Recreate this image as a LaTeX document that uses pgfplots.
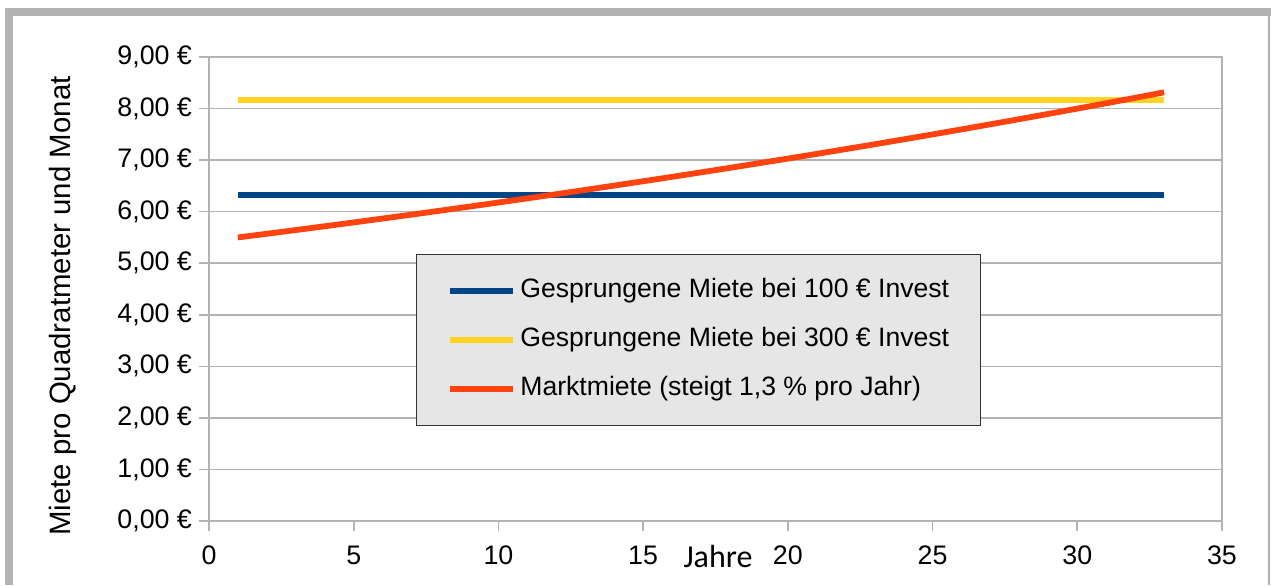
\documentclass[border=0pt]{standalone}
\usepackage{pgfplots}
\pgfplotsset{compat=1.18}
\usepackage{fontspec}
\setmainfont{Liberation Sans}
\newfontfamily\carlito{Carlito}
\definecolor{lblue}{HTML}{004586}
\definecolor{lyellow}{HTML}{FFD320}
\definecolor{lorange}{HTML}{FF420E}
\definecolor{lgrid}{HTML}{B3B3B3}
\definecolor{legfill}{HTML}{E6E6E6}
\begin{document}
\begin{tikzpicture}
\begin{axis}[
  at={(104.5pt,32pt)}, anchor=south west,
  scale only axis, width=506.5pt, height=232pt,
  xmin=0, xmax=35, ymin=0, ymax=9,
  xtick={0,5,...,35}, ytick={0,1,...,9},
  yticklabels={{0,00 €},{1,00 €},{2,00 €},{3,00 €},{4,00 €},{5,00 €},{6,00 €},{7,00 €},{8,00 €},{9,00 €}},
  /pgf/number format/assume math mode=true,
  tick label style={font=\fontsize{13.4}{15}\selectfont, text=black},
  xticklabel style={yshift=-4pt},
  axis line style={lgrid, line width=0.8pt},
  ymajorgrids, grid style={lgrid, line width=0.8pt},
  tick style={lgrid, line width=0.8pt},
  tick align=outside, major tick length=5pt, tick pos=left,
  legend cell align=left,
  legend image code/.code={\draw[#1, line width=2.9pt] (0pt,0pt) -- (31.5pt,0pt);},
  legend style={at={(rel axis cs:0.2043,0.575)}, anchor=north west,
    fill=legfill, draw=black!80, line width=0.6pt,
    font=\fontsize{13.3}{15}\selectfont,
    inner xsep=15.5pt, inner ysep=12pt, row sep=12pt,
    /tikz/every odd column/.style={column sep=2pt},
    nodes={inner sep=0pt, text height=9.5pt, text depth=3pt}},
]
\addplot[lblue, line width=2.9pt] coordinates {(1,6.33) (33,6.33)};
\addlegendentry{Gesprungene Miete bei 100 € Invest}
\addplot[lyellow, line width=2.9pt] coordinates {(1,8.17) (33,8.17)};
\addlegendentry{Gesprungene Miete bei 300 € Invest}
\addplot[lorange, line width=2.9pt] coordinates {
(1,5.5000) (2,5.5715) (3,5.6439) (4,5.7173) (5,5.7916) (6,5.8669) (7,5.9432)
(8,6.0204) (9,6.0987) (10,6.1780) (11,6.2583) (12,6.3397) (13,6.4221)
(14,6.5056) (15,6.5901) (16,6.6758) (17,6.7626) (18,6.8505) (19,6.9396)
(20,7.0298) (21,7.1212) (22,7.2138) (23,7.3075) (24,7.4025) (25,7.4988)
(26,7.5962) (27,7.6950) (28,7.7950) (29,7.8964) (30,7.9990) (31,8.1030)
(32,8.2083) (33,8.3151)};
\addlegendentry{Marktmiete (steigt 1,3 \% pro Jahr)}
\end{axis}
\fill[lgrid] (2.5pt,0pt) rectangle (6.5pt,288.5pt);
\fill[lgrid] (2.5pt,284.5pt) rectangle (635.5pt,288.5pt);
\fill[lgrid] (634pt,0pt) rectangle (635pt,288.5pt);
\node[rotate=90, font=\fontsize{14.7}{17}\selectfont] at (31.5pt,139.5pt) {Miete pro Quadratmeter und Monat};
\node[anchor=base, font=\carlito\fontsize{16}{18}\selectfont] at (359pt,9pt) {Jahre};
\pgfresetboundingbox
\path[use as bounding box] (0pt,0pt) rectangle (635.5pt,292.5pt);
\end{tikzpicture}
\end{document}
